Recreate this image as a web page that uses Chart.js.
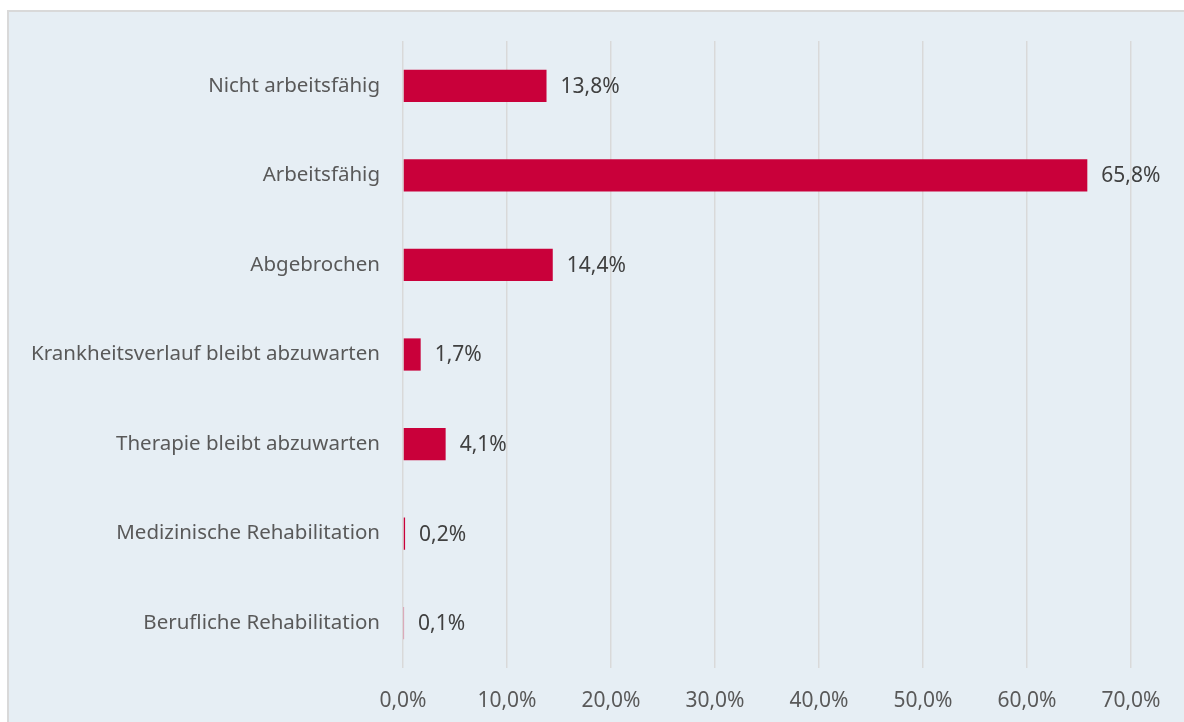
<!DOCTYPE html>
<html>
<head>
<meta charset="utf-8">
<script src="https://cdn.jsdelivr.net/npm/chart.js@4"></script>
<style>
  html, body { margin: 0; padding: 0; width: 1184px; height: 722px; overflow: hidden; background: #ffffff; }
  #frame { position: absolute; left: 7px; top: 10px; width: 1190px; height: 730px; background: #e6eef4; border: 2px solid #d9d9d9; }
  #chart { position: absolute; left: 0; top: 0; }
</style>
</head>
<body>
<div id="frame"></div>
<canvas id="chart" width="1184" height="722"></canvas>
<script>
// Ergebnis der Behandlung (Anteile in %)
const categories = [
    'Nicht arbeitsfähig',
    'Arbeitsfähig',
    'Abgebrochen',
    'Krankheitsverlauf bleibt abzuwarten',
    'Therapie bleibt abzuwarten',
    'Medizinische Rehabilitation',
    'Berufliche Rehabilitation'
];
const values = [13.8, 65.8, 14.4, 1.7, 4.1, 0.2, 0.1];
const xTicks = [0, 10, 20, 30, 40, 50, 60, 70];

const fontFamily = '"Noto Sans", sans-serif';
const fmt = v => v.toFixed(1).replace('.', ',') + '%';

// draws the value next to each bar
const valueLabels = {
    id: 'valueLabels',
    afterDatasetsDraw(chart) {
        const ctx = chart.ctx;
        const meta = chart.getDatasetMeta(0);
        ctx.save();
        ctx.font = '21px ' + fontFamily;
        ctx.fillStyle = '#404040';
        ctx.textAlign = 'left';
        ctx.textBaseline = 'middle';
        meta.data.forEach((bar, i) => {
            ctx.fillText(fmt(values[i]), bar.x + 14, bar.y + 1);
        });
        ctx.restore();
    }
};

const ctx = document.getElementById('chart').getContext('2d');
new Chart(ctx, {
    type: 'bar',
    data: {
        labels: categories,
        datasets: [{
            data: values,
            backgroundColor: '#c9003a',
            borderWidth: 0,
            barPercentage: 0.36,
            categoryPercentage: 1.0
        }]
    },
    options: {
        indexAxis: 'y',
        responsive: false,
        animation: false,
        layout: { padding: { top: 41, right: 53, left: 0, bottom: 0 } },
        plugins: {
            legend: { display: false },
            tooltip: { enabled: false }
        },
        scales: {
            x: {
                min: 0,
                max: 70,
                afterBuildTicks: scale => { scale.ticks = xTicks.map(v => ({ value: v })); },
                afterFit: scale => { scale.height = 54; },
                grid: { color: '#d9d9d9', lineWidth: 1.5, drawTicks: false },
                border: { display: false },
                ticks: {
                    padding: 20,
                    color: '#595959',
                    font: { family: fontFamily, size: 21 },
                    callback: v => fmt(v)
                }
            },
            y: {
                afterFit: scale => { scale.width = 403; },
                grid: { display: false },
                border: { display: false },
                ticks: {
                    padding: 15,
                    color: '#595959',
                    font: { family: fontFamily, size: 20.5 }
                }
            }
        }
    },
    plugins: [valueLabels]
});
</script>
</body>
</html>
